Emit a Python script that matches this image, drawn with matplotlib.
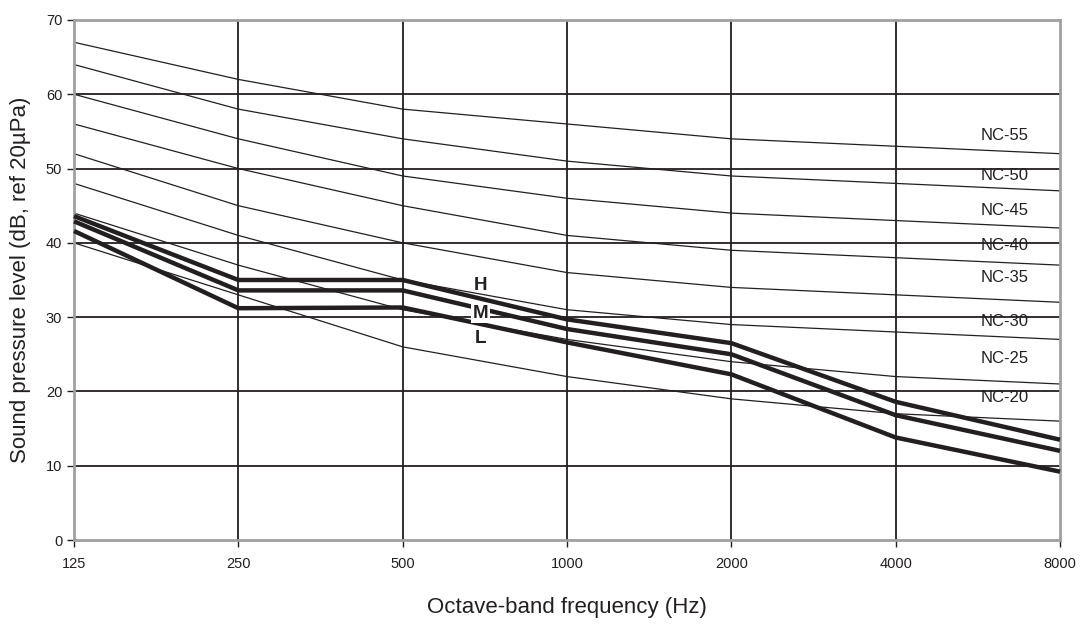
import matplotlib.pyplot as plt

plt.rcParams['font.family'] = ['Liberation Sans', 'DejaVu Sans']

# octave-band centre frequencies (Hz)
freqs = ['125', '250', '500', '1000', '2000', '4000', '8000']

# NC criterion curves, dB per octave band
nc_names = ['NC-20', 'NC-25', 'NC-30', 'NC-35', 'NC-40', 'NC-45', 'NC-50', 'NC-55']
nc_levels = [
    [40, 33, 26, 22, 19, 17, 16],
    [44, 37, 31, 27, 24, 22, 21],
    [48, 41, 35, 31, 29, 28, 27],
    [52, 45, 40, 36, 34, 33, 32],
    [56, 50, 45, 41, 39, 38, 37],
    [60, 54, 49, 46, 44, 43, 42],
    [64, 58, 54, 51, 49, 48, 47],
    [67, 62, 58, 56, 54, 53, 52],
]
# where each NC name sits on the right side
nc_label_y = [19.2, 24.4, 29.4, 35.3, 39.6, 44.4, 49.1, 54.5]

# measured spectra at fan speeds H / M / L
speed_names = ['H', 'M', 'L']
speed_levels = [
    [43.6, 35.0, 35.0, 29.7, 26.5, 18.6, 13.5],
    [42.9, 33.6, 33.6, 28.4, 25.0, 16.8, 12.0],
    [41.6, 31.2, 31.3, 26.6, 22.3, 13.8, 9.2],
]
speed_label_y = [34.3, 30.5, 27.1]

x = list(range(len(freqs)))

fig = plt.figure(figsize=(10.85, 6.24), dpi=100)
ax = fig.add_axes([0.0682, 0.1346, 0.9088, 0.8334])

ax.set_xlim(0, len(freqs) - 1)
ax.set_ylim(0, 70)
ax.set_xticks(x)
ax.set_xticklabels(freqs)
ax.set_yticks(range(0, 71, 10))

# grid
for v in range(10, 70, 10):
    ax.axhline(v, color='#231f20', lw=1.3, zorder=1)
for xi in x[1:-1]:
    ax.axvline(xi, color='#231f20', lw=1.3, zorder=1)

for lv in nc_levels:
    ax.plot(x, lv, color='#231f20', lw=0.9, zorder=2)

for lv in speed_levels:
    ax.plot(x, lv, color='#231f20', lw=3.2, zorder=3, solid_capstyle='butt',
            solid_joinstyle='miter', clip_on=False)

for name, ly in zip(nc_names, nc_label_y):
    ax.text(5.665, ly, name, ha='center', va='center', fontsize=12,
            color='#231f20', zorder=4)

for name, ly in zip(speed_names, speed_label_y):
    ax.text(2.475, ly, name, ha='center', va='center', fontsize=13.5,
            fontweight='bold', color='#231f20', zorder=5,
            bbox=dict(boxstyle='square,pad=0.08', fc='white', ec='none')
            if name == 'M' else None)

for s in ax.spines.values():
    s.set_color('#a0a0a2')
    s.set_linewidth(2)
ax.tick_params(axis='both', color='#231f20', length=5, width=1,
               labelsize=10.5, labelcolor='#231f20')
ax.tick_params(axis='x', pad=7)

ax.set_xlabel('Octave-band frequency (Hz)', fontsize=16, color='#231f20',
              labelpad=19)
ax.set_ylabel('Sound pressure level (dB, ref 20µPa)', fontsize=16,
              color='#231f20', labelpad=11)

fig.savefig('out.png', dpi=100)
